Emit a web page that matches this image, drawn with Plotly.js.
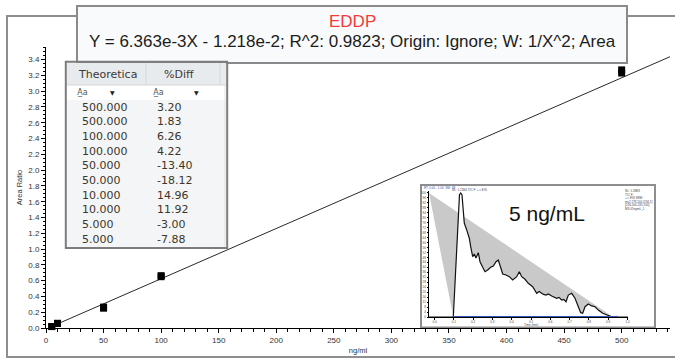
<!DOCTYPE html>
<html>
<head>
<meta charset="utf-8">
<script src="https://cdn.plot.ly/plotly-3.0.1.min.js"></script>
<style>html,body{margin:0;padding:0;background:#fff;}#chart{width:675px;height:360px;}</style>
</head>
<body>
<div id="chart"></div>
<script>
// ---- calibration data ----
const concentration = [500, 500, 100, 100, 50, 50, 10, 10, 5, 5];
const areaRatio = [3.27, 3.23, 0.663, 0.650, 0.265, 0.251, 0.059, 0.058, 0.019, 0.018];
const fitX = [3, 542];
const fitY = [0.007, 3.437];

// ---- table ----
const theoreticalCol = ['500.000','500.000','100.000','100.000','50.000','50.000','10.000','10.000','5.000','5.000'];
const diffCol = ['3.20','1.83','6.26','4.22','-13.40','-18.12','14.96','11.92','-3.00','-7.88'];
const tableHeaders = ['Theoretica', '%Diff'];

// ---- inset chromatogram (5 ng/mL) ----
const chromTime = [-0.0285, 0.0974, 0.1295, 0.1358, 0.1425, 0.1544, 0.1668, 0.1803, 0.1876, 0.1979, 0.2062, 0.2150,
  0.2269, 0.2358, 0.2497, 0.2617, 0.2756, 0.2912, 0.3047, 0.3187, 0.3306, 0.3394, 0.3534, 0.3705, 0.3876,
  0.4052, 0.4259, 0.4394, 0.4518, 0.4689, 0.4860, 0.5088, 0.5200, 0.5295, 0.5420, 0.5554, 0.5650, 0.5777,
  0.5900, 0.6073, 0.6200, 0.6332, 0.6450, 0.6591, 0.6700, 0.6813, 0.6933, 0.7109, 0.7280, 0.7399, 0.7575,
  0.7679, 0.7798, 0.7969, 0.8145, 0.8316, 0.8487, 0.8715, 0.8953, 0.9181, 1.0026];
const chromIntensity = [0, 0, 98.6, 100, 98.4, 75.6, 70.2, 63.5, 56.7, 48.6, 50.8, 47.6,
  51.9, 44.6, 40.1, 36.5, 37.9, 40.1, 41.1, 44.6, 46.0, 41.1, 34.7, 33.9, 32.5,
  29.8, 32.5, 36.5, 32.5, 30.4, 27.2, 24.4, 22.0, 19.1, 20.5, 19.1, 18.2, 17.7,
  18.6, 16.9, 16.2, 15.1, 15.8, 13.7, 14.2, 12.3, 17.7, 19.1, 15.1, 11.0, 3.5,
  3.0, 8.3, 10.5, 8.9, 8.3, 5.6, 3.0, 1.6, 0.2, 0];
const integTime = [-0.0285, 0.0974, 0.925];
const integIntensity = [100, 0, 0];
const baseTime = [0.0974, 0.9456];
const baseIntensity = [0, 0];

// pixel -> paper helpers (plot area: x 46..670, y 47..328)
const PL = 46, PR = 670, PT = 47, PB = 328;
const px = v => (v - PL) / (PR - PL);
const py = v => (PB - v) / (PB - PT);

const traces = [
  { type: 'scatter', mode: 'lines', x: fitX, y: fitY, line: {color: '#111', width: 0.9}, hoverinfo: 'skip' },
  { type: 'scatter', mode: 'markers', x: concentration, y: areaRatio, cliponaxis: false,
    marker: {symbol: 'square', size: 7, color: '#000'} },
  { type: 'scatter', mode: 'lines', x: integTime, y: integIntensity, xaxis: 'x2', yaxis: 'y2',
    fill: 'toself', fillcolor: '#c9c9c9', line: {width: 0}, hoverinfo: 'skip' },
  { type: 'scatter', mode: 'lines', x: chromTime, y: chromIntensity, xaxis: 'x2', yaxis: 'y2',
    fill: 'tozeroy', fillcolor: '#ffffff', line: {color: '#111', width: 1.2}, hoverinfo: 'skip' },
  { type: 'scatter', mode: 'lines+markers', x: baseTime, y: baseIntensity, xaxis: 'x2', yaxis: 'y2',
    line: {color: '#3553b8', width: 1.8}, marker: {color: '#3553b8', size: 3, symbol: 'triangle-up'}, cliponaxis: false }
];

const rectPx = (x0, y0, x1, y1, fill, lineColor, lw, layer) => ({type: 'rect', xref: 'paper', yref: 'paper',
  x0: px(x0), x1: px(x1), y0: py(y1), y1: py(y0), fillcolor: fill, line: {color: lineColor || 'rgba(0,0,0,0)', width: lw || 0}, layer: layer || 'above'});
const linePx = (x0, y0, x1, y1, color, lw) => ({type: 'line', xref: 'paper', yref: 'paper',
  x0: px(x0), x1: px(x1), y0: py(y0), y1: py(y1), line: {color: color, width: lw}, layer: 'above'});

// table geometry
const TL = 67, TR = 226, TT = 63, HB = 85, FB = 99.7, ROW = 14.7, TB = FB + ROW * theoreticalCol.length;
const COLSEP = [146, 220];

const shapes = [
  rectPx(7, 16, 700, 357, 'rgba(0,0,0,0)', '#8e8e8e', 2, 'below'),        // outer frame
  rectPx(421, 185, 655, 327.5, '#ffffff', '#8e8e8e', 2, 'below'),          // inset frame
  rectPx(77, 6, 627, 63, '#f9fafb', '#8a8a8a', 2, 'above'),                // title box
  rectPx(TL, TT, TR, TB, '#f3f5f7'),                                       // table body
  rectPx(TL, TT, TR, HB, '#e8ebee'),                                       // header
  rectPx(TL, HB, TR, FB, '#ffffff'),                                       // filter row
  linePx(TL, HB, TR, HB, '#d2d6da', 1),
  linePx(COLSEP[0], TT, COLSEP[0], HB, '#d2d6da', 1),
  linePx(COLSEP[1], TT, COLSEP[1], HB, '#d2d6da', 1),
  linePx(TR - 1, HB, TR - 1, TB, '#dfe2e5', 1),
  rectPx(TL - 1.2, TT - 1.2, TR + 1.2, TB + 1.2, 'rgba(0,0,0,0)', '#7c7c7c', 2, 'above')   // table border
];

const ann = (txt, x, y, size, color, anchor, family) => ({text: txt, xref: 'paper', yref: 'paper', x: px(x), y: py(y),
  xanchor: anchor || 'left', yanchor: 'middle', showarrow: false, borderpad: 0,
  font: {family: family || 'Liberation Sans', size: size, color: color || '#444'}});

const annotations = [
  ann('EDDP', 352, 21, 17, '#f23b3b', 'center'),
  ann('Y = 6.363e-3X - 1.218e-2; R^2: 0.9823; Origin: Ignore; W: 1/X^2; Area', 352, 42, 17, '#1c1c1c', 'center'),
  ann('5 ng/mL', 546.5, 213, 21, '#111', 'center'),
  ann('RT: 0.00 - 1.00  SM: 7B', 423, 187.5, 3, '#3553b8'),
  ann('NL: 1.21E4 TIC F: + c ESI', 451, 189.5, 3, '#444'),
  ann('NL: 5.38E3', 624, 191, 3), ann('TIC F:', 624, 194.5, 3), ann('+ c ESI SRM', 624, 198, 3),
  ann('ms2 278.200 [234.1]', 624, 201.5, 3), ann('[234.100-235.100]', 624, 205, 3), ann('MS 05ngmL_1', 624, 208.5, 3),
  ann('Time (min)', 531, 325.3, 3, '#444', 'center'),
  // table header
  ann(tableHeaders[0], (TL + COLSEP[0]) / 2 + 1, (TT + HB) / 2, 11, '#3c3a36', 'center', 'DejaVu Sans'),
  ann(tableHeaders[1], (COLSEP[0] + COLSEP[1]) / 2 - 4, (TT + HB) / 2, 11, '#3c3a36', 'center', 'DejaVu Sans'),
  // filter row
  ann('A\u0332a', 76, (HB + FB) / 2, 8, '#555', 'left', 'DejaVu Sans'),
  ann('▼', 108.5, (HB + FB) / 2, 6, '#222', 'left', 'DejaVu Sans'),
  ann('A\u0332a', 151.5, (HB + FB) / 2, 8, '#555', 'left', 'DejaVu Sans'),
  ann('▼', 193, (HB + FB) / 2, 6, '#222', 'left', 'DejaVu Sans')
];
theoreticalCol.forEach((v, i) => {
  const yc = FB + ROW * (i + 0.5);
  annotations.push(ann(v, 81, yc, 11, '#3d3628', 'left', 'DejaVu Sans'));
  annotations.push(ann(diffCol[i], 156, yc, 11, '#3d3628', 'left', 'DejaVu Sans'));
});

const layout = {
  width: 675, height: 360,
  margin: {l: PL, r: 675 - PR, t: PT, b: 360 - PB, pad: 0},
  paper_bgcolor: '#ffffff', plot_bgcolor: 'rgba(0,0,0,0)',
  showlegend: false,
  font: {family: 'Liberation Sans', color: '#222'},
  xaxis: {range: [0, 542], domain: [0, 1], showgrid: false, zeroline: false, showline: true, linecolor: '#000', linewidth: 1,
    ticks: 'outside', ticklen: 4, tickwidth: 1, tickcolor: '#000', dtick: 50, tick0: 0,
    minor: {dtick: 10, ticks: 'outside', ticklen: 2.5, tickwidth: 1, tickcolor: '#000'},
    tickfont: {size: 8, color: '#333'},
    title: {text: 'ng/ml', font: {size: 7.5, color: '#333'}, standoff: 4}},
  yaxis: {range: [0, 3.56], domain: [0, 1], showgrid: false, zeroline: false, showline: true, linecolor: '#000', linewidth: 1,
    ticks: 'outside', ticklen: 4, tickwidth: 1, tickcolor: '#000', dtick: 0.2, tick0: 0, tickformat: '.1f',
    minor: {dtick: 0.05, ticks: 'outside', ticklen: 2.5, tickwidth: 1, tickcolor: '#000'},
    tickfont: {size: 8, color: '#333'},
    title: {text: 'Area Ratio', font: {size: 7.5, color: '#333'}, standoff: 4}},
  xaxis2: {range: [-0.0285, 1.0026], domain: [px(429), px(628)], anchor: 'y2', showgrid: false, zeroline: false,
    showline: true, linecolor: '#000', linewidth: 1, ticks: 'outside', ticklen: 1.5, tickcolor: '#000',
    dtick: 0.1, tick0: 0, tickformat: '.1f', tickfont: {size: 3, color: '#444'}},
  yaxis2: {range: [0, 101.6], domain: [py(317), py(191)], anchor: 'x2', showgrid: false, zeroline: false,
    showline: true, linecolor: '#000', linewidth: 1, ticks: 'outside', ticklen: 1.5, tickcolor: '#000',
    dtick: 4, tick0: 0, tickfont: {size: 3, color: '#444'}},
  shapes: shapes,
  annotations: annotations
};

Plotly.newPlot('chart', traces, layout, {displayModeBar: false, staticPlot: true});
</script>
</body>
</html>
